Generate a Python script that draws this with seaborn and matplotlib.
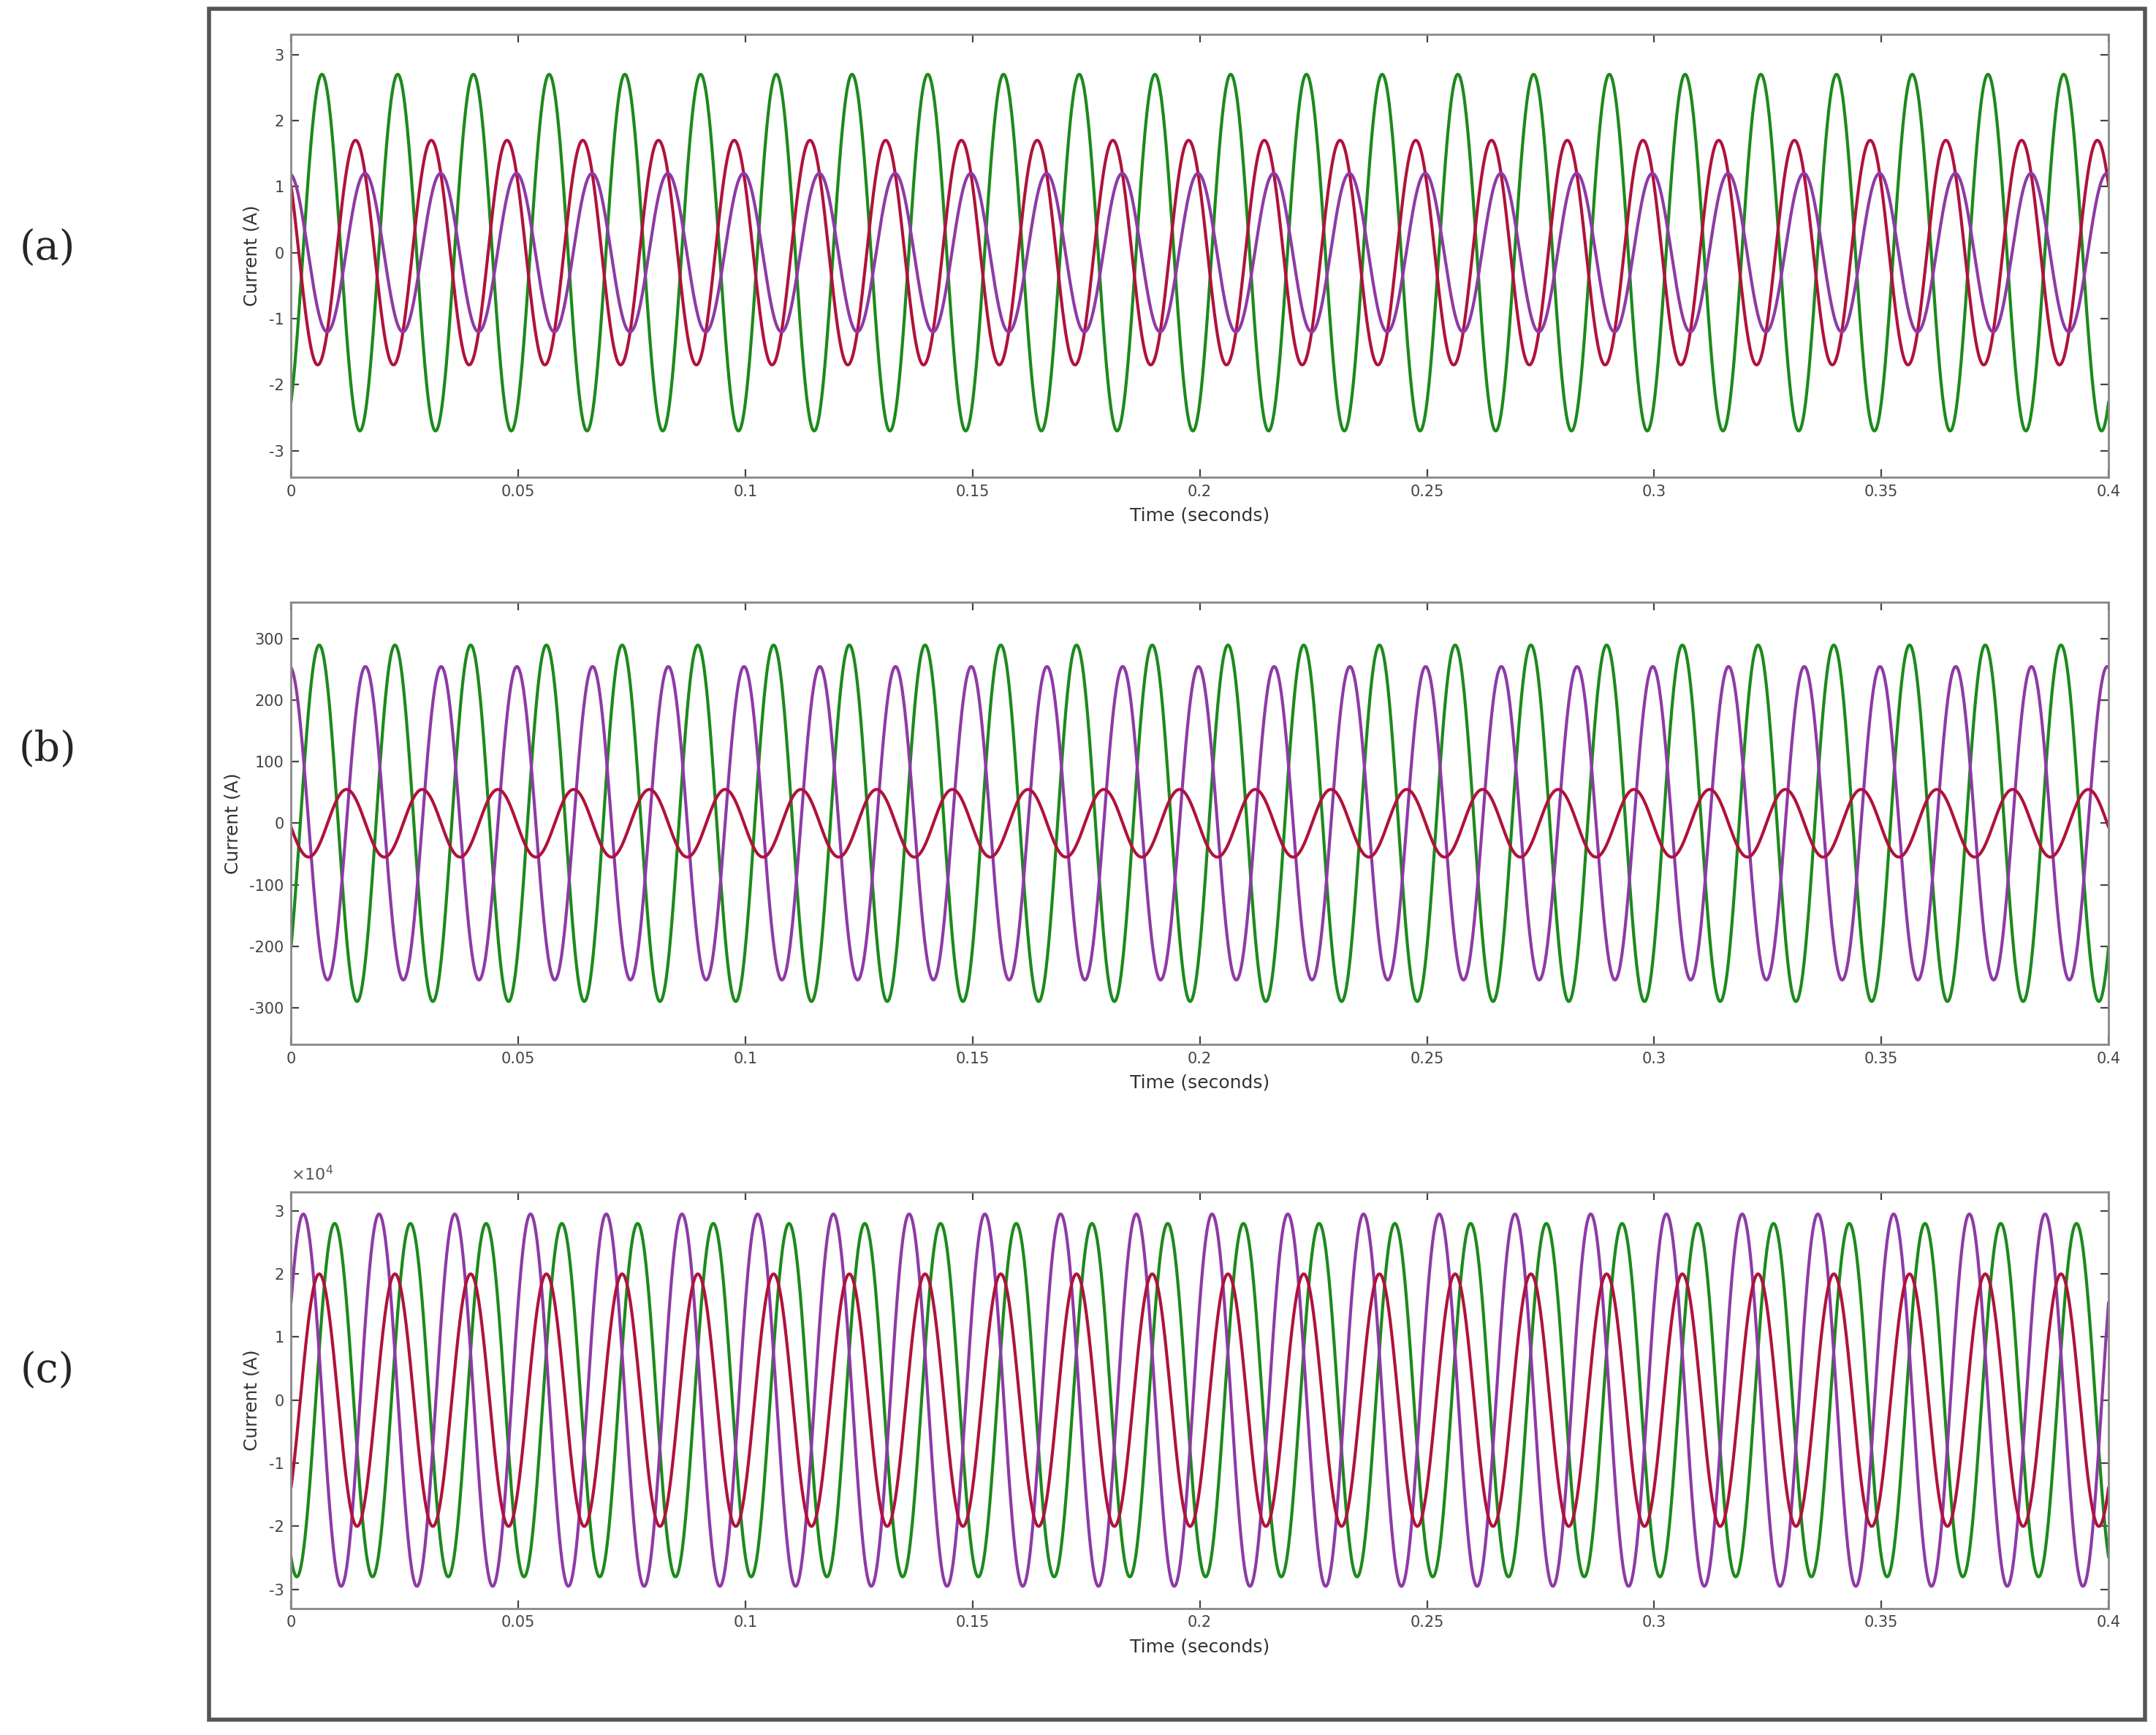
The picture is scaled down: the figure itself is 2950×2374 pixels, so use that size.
import matplotlib.pyplot as plt
import matplotlib.patches as mpatches
import numpy as np
import pandas as pd
import seaborn as sns

# three-phase currents, 60 Hz, 0..0.4 s
freq_hz = 60.0
phases = ["green", "red", "purple"]
colors = {"green": "#1c8a1c", "red": "#b0123c", "purple": "#8e3aa6"}

# amplitude and time of first positive peak (s) per phase, per panel
amp_a = [2.7, 1.7, 1.2]
peak_a = [0.0068, 0.0142, -0.0004]
amp_b = [290, 255, 55]
peak_b = [0.0062, -0.0003, 0.0122]
amp_c = [2.8, 2.95, 2.0]
peak_c = [0.0096, 0.0027, 0.0062]
names_b = ["green", "purple", "red"]
names_c = ["green", "purple", "red"]

ylim_a = (-3.4, 3.3)
ylim_b = (-360, 360)
ylim_c = (-3.3, 3.3)
yticks_a = [-3, -2, -1, 0, 1, 2, 3]
yticks_b = [-300, -200, -100, 0, 100, 200, 300]
yticks_c = [-3, -2, -1, 0, 1, 2, 3]
xticks = [0, 0.05, 0.1, 0.15, 0.2, 0.25, 0.3, 0.35, 0.4]
xticklabels = ["0", "0.05", "0.1", "0.15", "0.2", "0.25", "0.3", "0.35", "0.4"]

t = np.linspace(0, 0.4, 4001)


def wave_frame(names, amps, peaks):
    w = 2 * np.pi * freq_hz
    parts = []
    for n, a, p in zip(names, amps, peaks):
        parts.append(pd.DataFrame({"t": t, "i": a * np.cos(w * (t - p)), "phase": n}))
    return pd.concat(parts, ignore_index=True)


sns.set_style("white")
plt.rcParams["axes.unicode_minus"] = False
fig = plt.figure(figsize=(14.75, 11.87), dpi=200)
fig.patches.append(mpatches.Rectangle((0.097, 0.009), 0.898, 0.986, transform=fig.transFigure,
                                      fill=False, edgecolor="#555555", linewidth=2))

panels = [
    ("(a)", [0.135, 0.725, 0.846, 0.255], wave_frame(phases, amp_a, peak_a), ylim_a, yticks_a, 0.857),
    ("(b)", [0.135, 0.398, 0.846, 0.255], wave_frame(names_b, amp_b, peak_b), ylim_b, yticks_b, 0.568),
    ("(c)", [0.135, 0.073, 0.846, 0.240], wave_frame(names_c, amp_c, peak_c), ylim_c, yticks_c, 0.210),
]

for label, rect, df, ylim, yticks, ly in panels:
    rect[2] = 0.843
    ax = fig.add_axes(rect)
    sns.lineplot(data=df, x="t", y="i", hue="phase", palette=colors, linewidth=1.5,
                 legend=False, ax=ax, estimator=None)
    ax.set_xlim(0, 0.4)
    ax.set_ylim(*ylim)
    ax.set_xticks(xticks)
    ax.set_xticklabels(xticklabels)
    ax.set_yticks(yticks)
    ax.set_xlabel("Time (seconds)", fontsize=9, color="#333333")
    ax.set_ylabel("Current (A)", fontsize=9, color="#333333")
    ax.tick_params(direction="in", length=4, top=True, right=True, labelsize=7.5,
                   colors="#444444", bottom=True, left=True)
    for s in ax.spines.values():
        s.set_color("#888888")
        s.set_linewidth(1.0)
    fig.text(0.022, ly, label, fontsize=20, family="DejaVu Serif", va="center", ha="center")
    if label == "(c)":
        ax.text(0.0, 1.02, r"$\times10^4$", transform=ax.transAxes, fontsize=8,
                color="#555555", va="bottom", ha="left")

fig.savefig("out.png", dpi=200)
